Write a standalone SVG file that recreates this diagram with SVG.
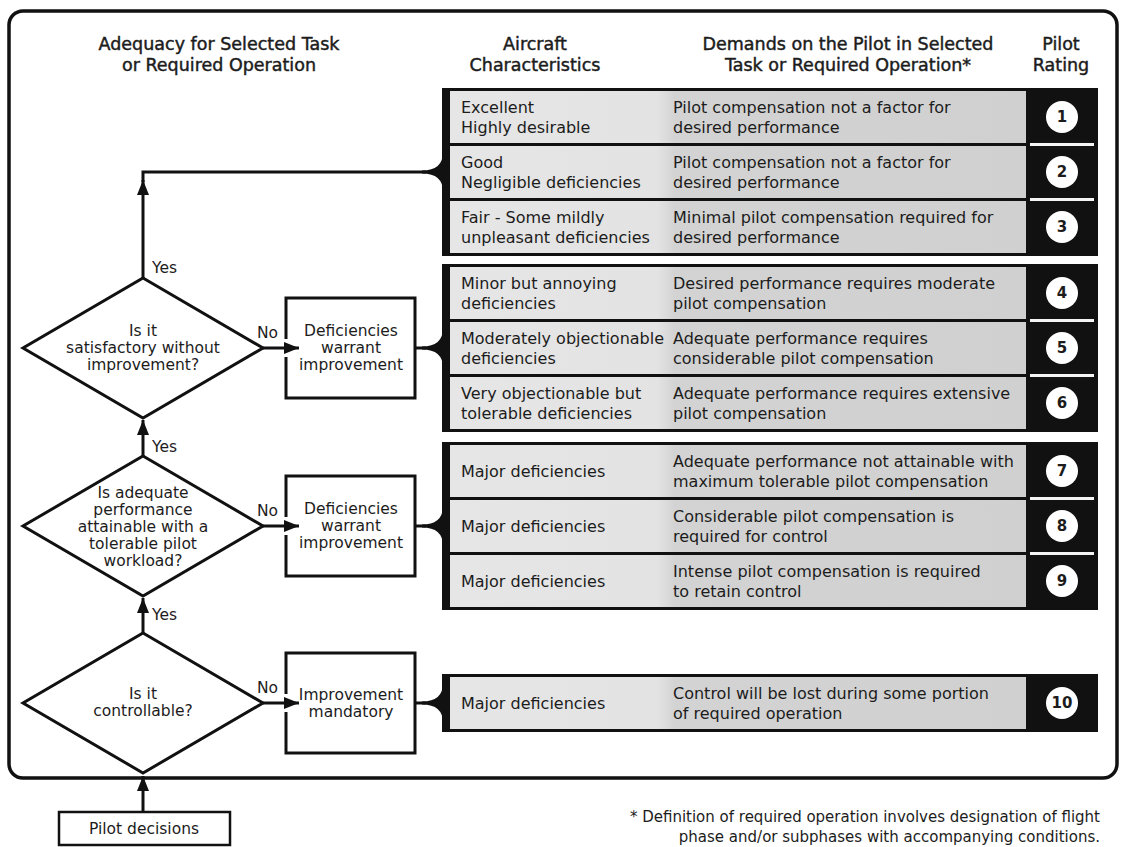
<svg xmlns="http://www.w3.org/2000/svg" width="1121" height="847" viewBox="0 0 1121 847">
<style>
text{font-family:"DejaVu Sans",Verdana,sans-serif;fill:#1c1c1c}
.h{font-size:17.5px;text-anchor:middle;stroke:#1c1c1c;stroke-width:0.45}
.b{font-size:16px}
.f{font-size:15.5px;text-anchor:middle}
.lab{font-size:15.5px}
.num{font-size:15px;font-weight:bold;text-anchor:middle}
.fn{font-size:15px;text-anchor:end}
.ln{fill:none;stroke:#111;stroke-width:3}
.shape{fill:#fff;stroke:#111;stroke-width:3}
.grp{fill:#111}
.cell{fill:url(#cellg)}
.sep{fill:#f4f4f4}
.circ{fill:#fff}
.brace{fill:#111}
</style>
<defs>
<linearGradient id="cellg" gradientUnits="userSpaceOnUse" x1="450" y1="0" x2="1026" y2="0">
<stop offset="0" stop-color="#e6e6e6"/>
<stop offset="0.36" stop-color="#e3e3e3"/>
<stop offset="0.39" stop-color="#d3d3d3"/>
<stop offset="1" stop-color="#d0d0d0"/>
</linearGradient>
<marker id="ah" markerUnits="userSpaceOnUse" markerWidth="15" markerHeight="12" refX="15" refY="6" orient="auto">
<path d="M0,0 L15,6 L0,12 Z" fill="#111"/>
</marker>
</defs>
<rect x="0" y="0" width="1121" height="847" fill="#fff"/>
<rect id="frame" x="9" y="11" width="1108" height="767" rx="14" fill="none" stroke="#111" stroke-width="3.5"/>

<g id="headers">
<text class="h" x="219" y="50">Adequacy for Selected Task</text>
<text class="h" x="219" y="71">or Required Operation</text>
<text class="h" x="535" y="50">Aircraft</text>
<text class="h" x="535" y="71">Characteristics</text>
<text class="h" x="848" y="50">Demands on the Pilot in Selected</text>
<text class="h" x="848" y="71">Task or Required Operation*</text>
<text class="h" x="1061" y="50">Pilot</text>
<text class="h" x="1061" y="71">Rating</text>
</g>

<g id="group1">
<rect class="grp" x="442" y="88" width="656" height="168"/>
<rect class="cell" x="450" y="91" width="576" height="52"/>
<rect class="cell" x="450" y="146" width="576" height="52"/>
<rect class="cell" x="450" y="201" width="576" height="52"/>
<rect class="sep" x="1030" y="143" width="64" height="3"/>
<rect class="sep" x="1030" y="198" width="64" height="3"/>
<text class="b" x="461" y="113">Excellent</text>
<text class="b" x="461" y="133">Highly desirable</text>
<text class="b" x="673" y="113">Pilot compensation not a factor for</text>
<text class="b" x="673" y="133">desired performance</text>
<circle class="circ" cx="1062" cy="117" r="16"/><text class="num" x="1062" y="122">1</text>
<text class="b" x="461" y="168">Good</text>
<text class="b" x="461" y="188">Negligible deficiencies</text>
<text class="b" x="673" y="168">Pilot compensation not a factor for</text>
<text class="b" x="673" y="188">desired performance</text>
<circle class="circ" cx="1062" cy="172" r="16"/><text class="num" x="1062" y="177">2</text>
<text class="b" x="461" y="223">Fair - Some mildly</text>
<text class="b" x="461" y="243">unpleasant deficiencies</text>
<text class="b" x="673" y="223">Minimal pilot compensation required for</text>
<text class="b" x="673" y="243">desired performance</text>
<circle class="circ" cx="1062" cy="227" r="16"/><text class="num" x="1062" y="232">3</text>
</g>

<g id="group2">
<rect class="grp" x="442" y="264" width="656" height="168"/>
<rect class="cell" x="450" y="267" width="576" height="52"/>
<rect class="cell" x="450" y="322" width="576" height="52"/>
<rect class="cell" x="450" y="377" width="576" height="52"/>
<rect class="sep" x="1030" y="319" width="64" height="3"/>
<rect class="sep" x="1030" y="374" width="64" height="3"/>
<text class="b" x="461" y="289">Minor but annoying</text>
<text class="b" x="461" y="309">deficiencies</text>
<text class="b" x="673" y="289">Desired performance requires moderate</text>
<text class="b" x="673" y="309">pilot compensation</text>
<circle class="circ" cx="1062" cy="293" r="16"/><text class="num" x="1062" y="298">4</text>
<text class="b" x="461" y="344">Moderately objectionable</text>
<text class="b" x="461" y="364">deficiencies</text>
<text class="b" x="673" y="344">Adequate performance requires</text>
<text class="b" x="673" y="364">considerable pilot compensation</text>
<circle class="circ" cx="1062" cy="348" r="16"/><text class="num" x="1062" y="353">5</text>
<text class="b" x="461" y="399">Very objectionable but</text>
<text class="b" x="461" y="419">tolerable deficiencies</text>
<text class="b" x="673" y="399">Adequate performance requires extensive</text>
<text class="b" x="673" y="419">pilot compensation</text>
<circle class="circ" cx="1062" cy="403" r="16"/><text class="num" x="1062" y="408">6</text>
</g>

<g id="group3">
<rect class="grp" x="442" y="442" width="656" height="168"/>
<rect class="cell" x="450" y="445" width="576" height="52"/>
<rect class="cell" x="450" y="500" width="576" height="52"/>
<rect class="cell" x="450" y="555" width="576" height="52"/>
<rect class="sep" x="1030" y="497" width="64" height="3"/>
<rect class="sep" x="1030" y="552" width="64" height="3"/>
<text class="b" x="461" y="477">Major deficiencies</text>
<text class="b" x="673" y="467">Adequate performance not attainable with</text>
<text class="b" x="673" y="487">maximum tolerable pilot compensation</text>
<circle class="circ" cx="1062" cy="471" r="16"/><text class="num" x="1062" y="476">7</text>
<text class="b" x="461" y="532">Major deficiencies</text>
<text class="b" x="673" y="522">Considerable pilot compensation is</text>
<text class="b" x="673" y="542">required for control</text>
<circle class="circ" cx="1062" cy="526" r="16"/><text class="num" x="1062" y="531">8</text>
<text class="b" x="461" y="587">Major deficiencies</text>
<text class="b" x="673" y="577">Intense pilot compensation is required</text>
<text class="b" x="673" y="597">to retain control</text>
<circle class="circ" cx="1062" cy="581" r="16"/><text class="num" x="1062" y="586">9</text>
</g>

<g id="group4">
<rect class="grp" x="442" y="674" width="656" height="58"/>
<rect class="cell" x="450" y="677" width="576" height="52"/>
<text class="b" x="461" y="709">Major deficiencies</text>
<text class="b" x="673" y="699">Control will be lost during some portion</text>
<text class="b" x="673" y="719">of required operation</text>
<circle class="circ" cx="1062" cy="703" r="16"/><text class="num" x="1062" y="708">10</text>
</g>

<g id="q-satisfactory">
<polygon class="shape" points="143,278 263,348 143,418 23,348"/>
<text class="f" x="143" y="336">Is it</text>
<text class="f" x="143" y="353">satisfactory without</text>
<text class="f" x="143" y="370">improvement?</text>
</g>
<g id="q-adequate">
<polygon class="shape" points="143,456 263,526 143,596 23,526"/>
<text class="f" x="143" y="498">Is adequate</text>
<text class="f" x="143" y="515">performance</text>
<text class="f" x="143" y="532">attainable with a</text>
<text class="f" x="143" y="549">tolerable pilot</text>
<text class="f" x="143" y="566">workload?</text>
</g>
<g id="q-controllable">
<polygon class="shape" points="143,633 263,703 143,773 23,703"/>
<text class="f" x="143" y="699">Is it</text>
<text class="f" x="143" y="716">controllable?</text>
</g>
<g id="box-def1">
<rect class="shape" x="286" y="298" width="129" height="100"/>
<text class="f" x="351" y="336">Deficiencies</text>
<text class="f" x="351" y="353">warrant</text>
<text class="f" x="351" y="370">improvement</text>
</g>
<g id="box-def2">
<rect class="shape" x="286" y="476" width="129" height="100"/>
<text class="f" x="351" y="514">Deficiencies</text>
<text class="f" x="351" y="531">warrant</text>
<text class="f" x="351" y="548">improvement</text>
</g>
<g id="box-mandatory">
<rect class="shape" x="286" y="653" width="129" height="100"/>
<text class="f" x="351" y="700">Improvement</text>
<text class="f" x="351" y="717">mandatory</text>
</g>
<g id="pilot-decisions">
<rect x="59" y="812" width="171" height="33" fill="#fff" stroke="#111" stroke-width="2.5"/>
<text class="f" x="144" y="834">Pilot decisions</text>
</g>

<g id="connectors">
<path class="ln" d="M143,278 V180" marker-end="url(#ah)"/>
<path class="ln" d="M143,182 V172 H426"/>
<path class="ln" d="M143,456 V420" marker-end="url(#ah)"/>
<path class="ln" d="M143,633 V598" marker-end="url(#ah)"/>
<path class="ln" d="M143,812 V776" marker-end="url(#ah)"/>
<rect x="283" y="339" width="6" height="18" fill="#fff"/>
<rect x="283" y="517" width="6" height="18" fill="#fff"/>
<rect x="283" y="694" width="6" height="18" fill="#fff"/>
<path class="ln" d="M263,348 H299" marker-end="url(#ah)"/>
<path class="ln" d="M263,526 H299" marker-end="url(#ah)"/>
<path class="ln" d="M263,703 H299" marker-end="url(#ah)"/>
<path class="ln" d="M415,348 H426"/>
<path class="ln" d="M415,526 H426"/>
<path class="ln" d="M415,703 H426"/>
<path class="brace" d="M443,152 Q443,170.5 422,170.5 L422,173.5 Q443,173.5 443,192 Z"/>
<path class="brace" d="M443,328 Q443,346.5 422,346.5 L422,349.5 Q443,349.5 443,368 Z"/>
<path class="brace" d="M443,506 Q443,524.5 422,524.5 L422,527.5 Q443,527.5 443,546 Z"/>
<path class="brace" d="M443,683 Q443,701.5 422,701.5 L422,704.5 Q443,704.5 443,723 Z"/>
<text class="lab" x="152" y="273">Yes</text>
<text class="lab" x="152" y="452">Yes</text>
<text class="lab" x="152" y="620">Yes</text>
<text class="lab" x="257" y="338">No</text>
<text class="lab" x="257" y="516">No</text>
<text class="lab" x="257" y="693">No</text>
</g>

<g id="footnote">
<text class="fn" x="1100" y="822">* Definition of required operation involves designation of flight</text>
<text class="fn" x="1100" y="842">phase and/or subphases with accompanying conditions.</text>
</g>
</svg>
